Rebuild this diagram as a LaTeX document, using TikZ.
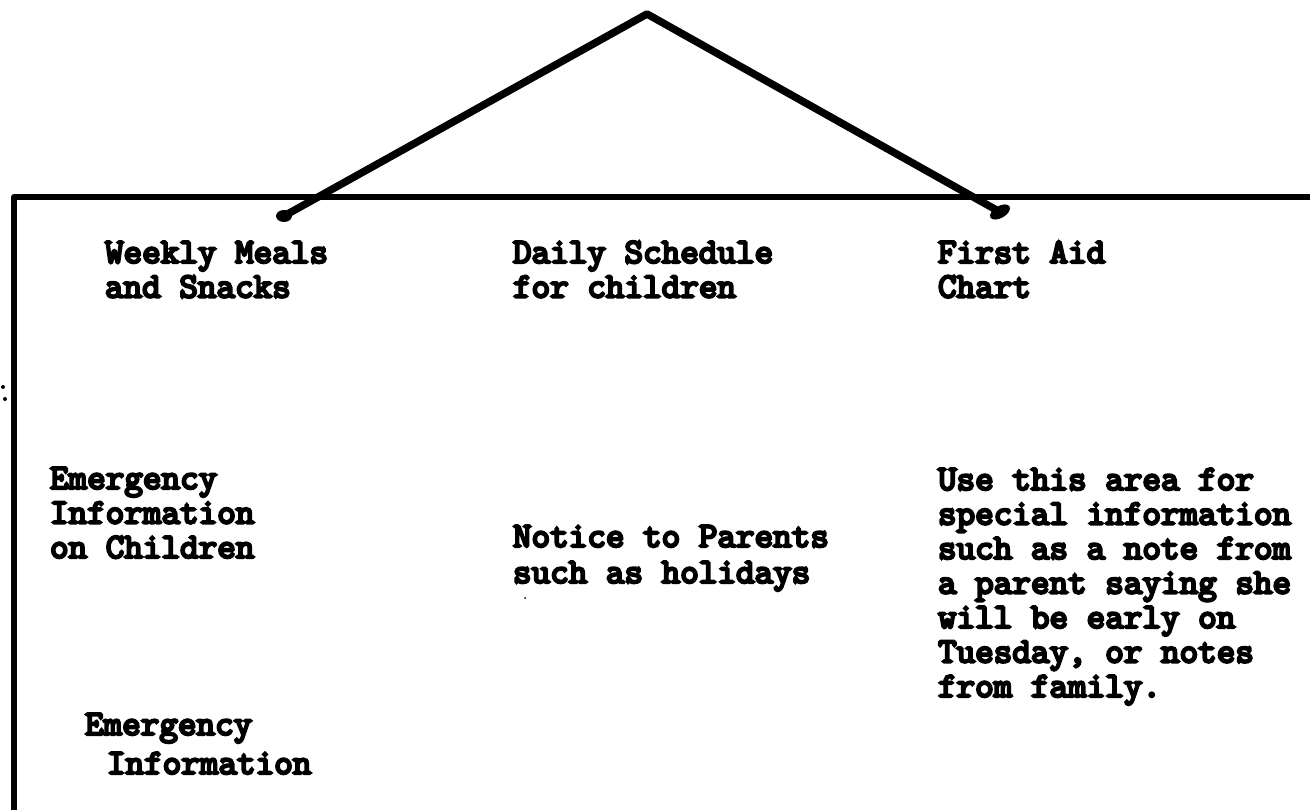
\documentclass[tikz,border=0pt]{standalone}
\usepackage{fontspec}
\newfontfamily\typew[FakeBold=6.5]{lmmono10-regular.otf}
\begin{document}
\begin{tikzpicture}[x=1pt,y=-1pt,
  lbl/.style={anchor=base west,inner sep=0pt,outer sep=0pt,font=\typew\fontsize{35.4}{40}\selectfont},
  board/.style={line width=6pt,line cap=round,line join=round},
  cord/.style={line width=7.5pt,line cap=round,line join=round},
  pin/.style={fill=black,draw=none},
  speck/.style={fill=black,draw=none}]
\useasboundingbox (0,0) rectangle (1310,810);
% board edges
\coordinate (TL) at (14,197);
\coordinate (TR) at (1312,197);
\coordinate (BL) at (14,812);
\draw[board] (BL) -- (TL) -- (TR);
% hanger cord
\coordinate (apex) at (647,14);
\coordinate (pinL) at (284,216);
\coordinate (pinR) at (1000,212);
\draw[cord] (pinL) -- (apex) -- (pinR);
\fill[pin] (pinL) ellipse (8 and 6);
\fill[pin,rotate around={30:(pinR)}] (pinR) ellipse (11 and 6);
% specks
\fill[speck] (3,387) circle (2);
\fill[speck] (5,399) circle (2);
\fill[speck] (525,598) circle (1);
% texts
\node[lbl] (wm1) at (105,263) {Weekly Meals};
\node[lbl] (wm2) at (105,297.5) {and Snacks};
\node[lbl] (ds1) at (513,263) {Daily Schedule};
\node[lbl] (ds2) at (513,297.5) {for children};
\node[lbl] (fa1) at (938,263) {First Aid};
\node[lbl] (fa2) at (938,297.5) {Chart};
\node[lbl] (ei1) at (50,489) {Emergency};
\node[lbl] (ei2) at (50,523.5) {Information};
\node[lbl] (ei3) at (50,558) {on Children};
\node[lbl] (np1) at (513,547) {Notice to Parents};
\node[lbl] (np2) at (513,583) {such as holidays};
\node[lbl] (u1) at (938,490) {Use this area for};
\node[lbl] (u2) at (938,524.5) {special information};
\node[lbl] (u3) at (938,559) {such as a note from};
\node[lbl] (u4) at (938,593.5) {a parent saying she};
\node[lbl] (u5) at (938,628) {will be early on};
\node[lbl] (u6) at (938,662.5) {Tuesday, or notes};
\node[lbl] (u7) at (938,697) {from family.};
\node[lbl] (e1) at (85,735) {Emergency};
\node[lbl] (e2) at (107,774) {Information};
\end{tikzpicture}
\end{document}
